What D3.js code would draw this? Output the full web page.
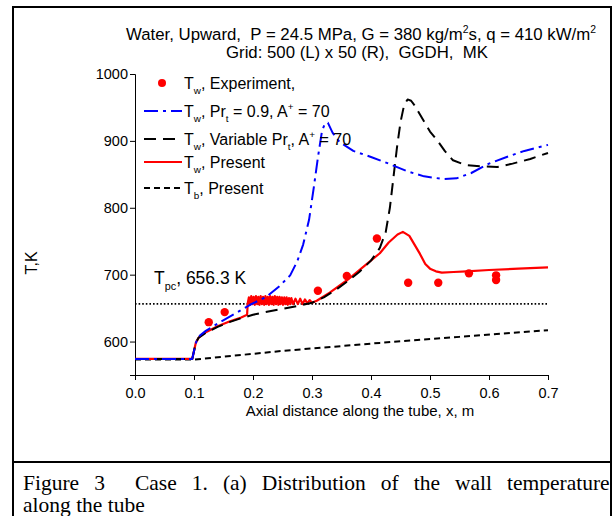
<!DOCTYPE html>
<html><head><meta charset="utf-8">
<script src="https://cdn.jsdelivr.net/npm/d3@7"></script>
<style>
html,body{margin:0;padding:0;background:#fff;}
svg{display:block;}
text{white-space:pre;}
</style>
</head><body>
<svg id="c" width="614" height="516"></svg>
<script>
// ---- data ----
const xTicks = [0.0, 0.1, 0.2, 0.3, 0.4, 0.5, 0.6, 0.7];
const yTicks = [600, 700, 800, 900, 1000];
const Tpc = 656.3;

const expX = [0.125, 0.152, 0.310, 0.359, 0.410, 0.463, 0.514, 0.566, 0.612, 0.612];
const expT = [629, 644, 676, 698, 754, 688, 688, 702, 699, 692];

const blueSeries = [[0,574],[0.097,574],[0.100,586],[0.104,600],[0.110,609],[0.120,616],[0.144,629],[0.170,642],[0.195,655],[0.223,667],[0.245,683],[0.263,699],[0.275,720],[0.285,745],[0.295,782],[0.303,830],[0.310,875],[0.317,915],[0.322,926],[0.327,927],[0.335,912],[0.347,898],[0.370,885],[0.400,876],[0.430,866],[0.460,855],[0.490,847],[0.522,843],[0.545,844],[0.570,852],[0.600,866],[0.630,876],[0.660,885],[0.700,894]];

const blackSeries = [[0,574],[0.097,574],[0.100,586],[0.103,598],[0.108,606],[0.120,613],[0.140,622],[0.160,629],[0.180,635],[0.200,640],[0.220,644],[0.250,649],[0.280,654],[0.300,658],[0.320,666],[0.340,677],[0.360,690],[0.380,704],[0.400,721],[0.415,740],[0.425,764],[0.432,800],[0.438,845],[0.444,890],[0.450,928],[0.456,953],[0.462,962],[0.468,960],[0.474,953],[0.480,944],[0.490,929],[0.500,914],[0.512,901],[0.525,885],[0.539,871],[0.560,864],[0.585,862],[0.614,861],[0.640,866],[0.670,873],[0.700,882]];

const redSeries = [[0,574],[0.097,574],[0.100,586],[0.103,598],[0.108,606],[0.120,614],[0.140,623],[0.160,630],[0.180,636],[0.190,640],[0.191,657],[0.193,666],[0.195,655],[0.197,668],[0.199,656],[0.201,667],[0.203,655],[0.205,668],[0.207,656],[0.209,667],[0.211,655],[0.213,668],[0.215,656],[0.217,667],[0.219,655],[0.221,668],[0.223,656],[0.225,667],[0.227,655],[0.229,668],[0.231,656],[0.233,667],[0.235,655],[0.237,668],[0.239,656],[0.241,667],[0.243,655],[0.245,667],[0.247,656],[0.249,666],[0.251,655],[0.253,666],[0.255,656],[0.257,666],[0.259,655],[0.261,665],[0.263,656],[0.265,665],[0.268,656],[0.272,664],[0.276,656],[0.280,664],[0.284,656],[0.288,663],[0.292,657],[0.296,662],[0.300,658],[0.308,661],[0.330,673],[0.360,692],[0.390,714],[0.415,732],[0.430,748],[0.445,760],[0.454,764],[0.465,758],[0.475,743],[0.483,731],[0.492,716],[0.500,709],[0.510,705],[0.520,703],[0.540,704],[0.562,705],[0.600,707],[0.650,709],[0.700,711]];

const bulkSeries = [[0,573],[0.100,573],[0.250,586],[0.415,598],[0.550,607],[0.700,617]];

// ---- drawing ----
const svg = d3.select("#c");
const x = d3.scaleLinear().domain([0, 0.7]).range([135, 548]);
const y = d3.scaleLinear().domain([550, 1000]).range([375, 74]);
const font = "Arial, 'Liberation Sans', sans-serif";

// frame
svg.append("rect").attr("x",13).attr("y",7).attr("width",598).attr("height",520)
  .attr("fill","none").attr("stroke","#000").attr("stroke-width",2);
svg.append("line").attr("x1",13).attr("x2",611).attr("y1",462).attr("y2",462)
  .attr("stroke","#000").attr("stroke-width",2);

function rich(sel, parts, size){
  parts.forEach(p=>{
    const ts = sel.append("tspan").text(p.t);
    if(p.s==="sub"){ ts.attr("font-size", size*0.62).attr("dy", size*0.35); sel.append("tspan").attr("dy",-size*0.35).text("\u200b"); }
    else if(p.s==="sup"){ ts.attr("font-size", size*0.62).attr("dy", -size*0.42); sel.append("tspan").attr("dy",size*0.42).text("\u200b"); }
  });
}

// title
const tSize = 16.8;
const t1 = svg.append("text").attr("x",361).attr("y",40).attr("text-anchor","middle")
  .attr("font-family",font).attr("font-size",tSize);
rich(t1,[{t:"Water, Upward,  P = 24.5 MPa, G = 380 kg/m"},{t:"2",s:"sup"},{t:"s, q = 410 kW/m"},{t:"2",s:"sup"}],tSize);
svg.append("text").attr("x",357).attr("y",58).attr("text-anchor","middle")
  .attr("font-family",font).attr("font-size",tSize).text("Grid: 500 (L) x 50 (R),  GGDH,  MK");

// axes
const xAxis = svg.append("g").attr("transform","translate(0,375)")
  .call(d3.axisBottom(x).tickValues(xTicks).tickFormat(d3.format(".1f")).tickSizeOuter(0).tickSize(5));
const yAxis = svg.append("g").attr("transform","translate(135,0)")
  .call(d3.axisLeft(y).tickValues(yTicks).tickFormat(d3.format("d")).tickSizeOuter(0).tickSize(5));
[xAxis,yAxis].forEach(a=>{
  a.selectAll("text").attr("font-family",font).attr("font-size",14.5).attr("fill","#000");
  a.selectAll("line,path").attr("stroke","#000").attr("stroke-width",1);
});
xAxis.selectAll("text").attr("dy","1.05em");
yAxis.selectAll("text").attr("x",-7);

svg.append("text").attr("x",360).attr("y",416).attr("text-anchor","middle")
  .attr("font-family",font).attr("font-size",15).text("Axial distance along the tube, x, m");
svg.append("text").attr("transform","translate(37,263) rotate(-90)").attr("text-anchor","middle")
  .attr("font-family",font).attr("font-size",16).text("T,K");

// Tpc line
svg.append("line").attr("x1",x(0)).attr("x2",x(0.7)).attr("y1",y(Tpc)).attr("y2",y(Tpc))
  .attr("stroke","#000").attr("stroke-width",1.6).attr("stroke-dasharray","1.6,2");
const tp = svg.append("text").attr("x",154).attr("y",284).attr("font-family",font).attr("font-size",17.5);
rich(tp,[{t:"T"},{t:"pc",s:"sub"},{t:", 656.3 K"}],17.5);

const line = d3.line().x(d=>x(d[0])).y(d=>y(d[1]));
const styles = {
  bulk:{c:"#000",d:"6,4",w:2},
  black:{c:"#000",d:"12,7",w:2},
  blue:{c:"#0000ff",d:"14,5,3,5",w:2},
  red:{c:"#ff0000",d:null,w:2.2}
};
function drawLine(data, st){
  const p = svg.append("path").datum(data).attr("d",line).attr("fill","none")
    .attr("stroke",st.c).attr("stroke-width",st.w).attr("stroke-linejoin","round");
  if(st.d) p.attr("stroke-dasharray",st.d);
}
drawLine(bulkSeries, styles.bulk);
drawLine(redSeries, styles.red);
drawLine(blackSeries, styles.black);
drawLine(blueSeries, styles.blue);

svg.append("g").selectAll("circle").data(expX).join("circle")
  .attr("cx",(d)=>x(d)).attr("cy",(d,i)=>y(expT[i])).attr("r",4.2).attr("fill","#ff0000");

// legend
const legY = [83, 111, 139, 162, 188];
const lg = svg.append("g");
lg.append("circle").attr("cx",162).attr("cy",legY[0]).attr("r",4).attr("fill","#ff0000");
[[styles.blue,1],[styles.black,2],[styles.red,3],[styles.bulk,4]].forEach(([st,i])=>{
  const l = lg.append("line").attr("x1",144).attr("x2",182).attr("y1",legY[i]).attr("y2",legY[i])
    .attr("stroke",st.c).attr("stroke-width",st.w);
  if(st.d) l.attr("stroke-dasharray",st.d);
});
const legTexts = [
  [{t:"T"},{t:"w",s:"sub"},{t:", Experiment,"}],
  [{t:"T"},{t:"w",s:"sub"},{t:", Pr"},{t:"t",s:"sub"},{t:" = 0.9, A"},{t:"+",s:"sup"},{t:" = 70"}],
  [{t:"T"},{t:"w",s:"sub"},{t:", Variable Pr"},{t:"t",s:"sub"},{t:", A"},{t:"+",s:"sup"},{t:" = 70"}],
  [{t:"T"},{t:"w",s:"sub"},{t:", Present"}],
  [{t:"T"},{t:"b",s:"sub"},{t:", Present"}]
];
legTexts.forEach((parts,i)=>{
  const tx = lg.append("text").attr("x",184).attr("y",legY[i]+5.5).attr("font-family",font).attr("font-size",16);
  rich(tx,parts,16);
});

// caption
const serif = "'Liberation Serif','Times New Roman',serif";
const cSize = 21.5;
const cap1 = svg.append("text").attr("x",23).attr("y",490).attr("font-family",serif).attr("font-size",cSize)
  .text("Figure 3  Case 1. (a) Distribution of the wall temperature");
const natural = cap1.node().getComputedTextLength();
const gaps = 9;
cap1.attr("word-spacing", Math.max(0,(577 - natural)/gaps));
svg.append("text").attr("x",23).attr("y",512).attr("font-family",serif).attr("font-size",cSize)
  .text("along the tube");
</script>
</body></html>
